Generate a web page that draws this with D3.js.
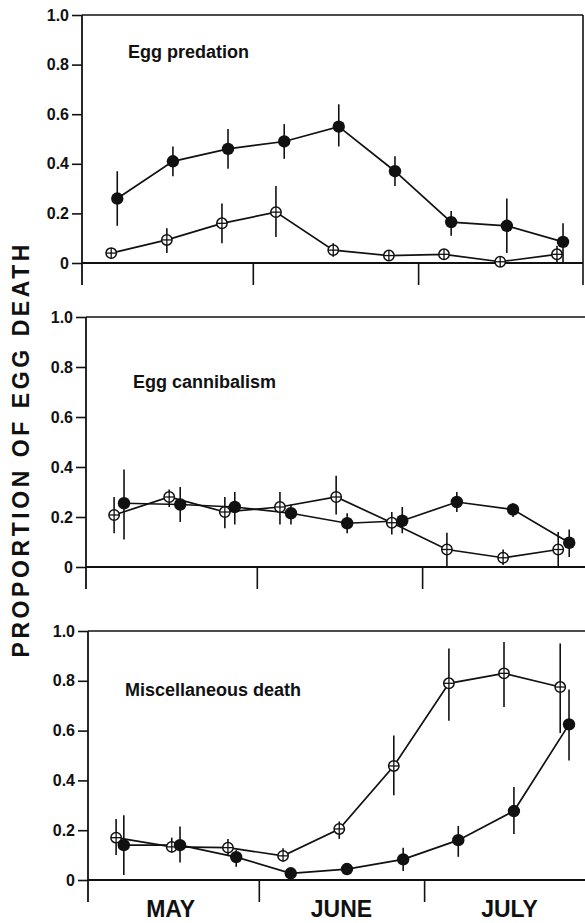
<!DOCTYPE html>
<html>
<head>
<meta charset="utf-8">
<script src="https://cdn.jsdelivr.net/npm/d3@7"></script>
<style>
  html, body { margin: 0; padding: 0; background: #fff; }
  svg { display: block; }
  text { font-family: "Liberation Sans", Arial, Helvetica, sans-serif; font-weight: bold; fill: #111; }
</style>
</head>
<body>
<div id="chart"></div>
<script>
// ---------- DATA ----------
// x values: day of season (0 = 1 May)
const monthBoundaries = [31, 61];
const monthLabels = ["MAY", "JUNE", "JULY"];
const monthMidDays = [15, 46, 76.5];
const yTickValues = [0, 0.2, 0.4, 0.6, 0.8, 1.0];
const yTickLabels = ["0", "0.2", "0.4", "0.6", "0.8", "1.0"];
const panelTitles = ["Egg predation", "Egg cannibalism", "Miscellaneous death"];

// Panel 1: Egg predation
const predFilledDays = [6.4, 16.5, 26.5, 36.7, 46.6, 56.8, 67.0, 77.1, 87.3];
const predFilled     = [0.26, 0.41, 0.46, 0.49, 0.55, 0.37, 0.165, 0.15, 0.085];
const predFilledHi   = [0.37, 0.47, 0.54, 0.56, 0.64, 0.43, 0.21, 0.26, 0.16];
const predFilledLo   = [0.15, 0.35, 0.38, 0.42, 0.47, 0.31, 0.11, 0.04, 0.0];
const predOpenDays   = [5.3, 15.4, 25.4, 35.2, 45.6, 55.7, 65.7, 75.9, 86.2];
const predOpen       = [0.04, 0.093, 0.16, 0.205, 0.052, 0.03, 0.035, 0.005, 0.035];
const predOpenHi     = [0.04, 0.14, 0.24, 0.31, 0.08, 0.045, 0.05, 0.015, 0.07];
const predOpenLo     = [0.04, 0.04, 0.08, 0.105, 0.025, 0.015, 0.02, 0.0, 0.0];

// Panel 2: Egg cannibalism
const cannFilledDays = [6.9, 17.1, 27.0, 37.2, 47.4, 57.4, 67.3, 77.5, 87.7];
const cannFilled     = [0.255, 0.25, 0.24, 0.215, 0.175, 0.185, 0.26, 0.23, 0.097];
const cannFilledHi   = [0.39, 0.32, 0.30, 0.25, 0.215, 0.24, 0.30, 0.255, 0.15];
const cannFilledLo   = [0.11, 0.18, 0.17, 0.17, 0.135, 0.135, 0.22, 0.20, 0.04];
const cannOpenDays   = [5.1, 15.1, 25.2, 35.2, 45.4, 55.5, 65.5, 75.7, 85.7];
const cannOpen       = [0.208, 0.28, 0.22, 0.24, 0.28, 0.177, 0.07, 0.037, 0.07];
const cannOpenHi     = [0.28, 0.31, 0.28, 0.30, 0.365, 0.22, 0.137, 0.07, 0.14];
const cannOpenLo     = [0.135, 0.24, 0.155, 0.17, 0.21, 0.13, 0.0, 0.008, 0.0];

// Panel 3: Miscellaneous death
const miscFilledDays = [6.5, 16.7, 26.9, 36.8, 47.0, 57.2, 67.2, 77.3, 87.3];
const miscFilled     = [0.14, 0.14, 0.092, 0.027, 0.044, 0.083, 0.16, 0.277, 0.625];
const miscFilledHi   = [0.26, 0.215, 0.12, 0.027, 0.044, 0.13, 0.217, 0.373, 0.765];
const miscFilledLo   = [0.02, 0.07, 0.053, 0.027, 0.044, 0.036, 0.093, 0.185, 0.48];
const miscOpenDays   = [5.1, 15.2, 25.4, 35.4, 45.6, 55.5, 65.5, 75.5, 85.7];
const miscOpen       = [0.17, 0.133, 0.13, 0.097, 0.205, 0.458, 0.79, 0.83, 0.775];
const miscOpenHi     = [0.245, 0.17, 0.165, 0.128, 0.235, 0.58, 0.93, 0.956, 0.95];
const miscOpenLo     = [0.10, 0.11, 0.10, 0.073, 0.165, 0.34, 0.64, 0.695, 0.59];

// ---------- LAYOUT ----------
const W = 585, H = 923;
const panels = [
  { title: panelTitles[0], left: 82, top: 15,  bottom: 263, rightEnd: 583, frameRight: true,  titleX: 128, titleY: 58,
    filled: { days: predFilledDays, v: predFilled, hi: predFilledHi, lo: predFilledLo },
    open:   { days: predOpenDays,   v: predOpen,   hi: predOpenHi,   lo: predOpenLo } },
  { title: panelTitles[1], left: 86, top: 317, bottom: 567, rightEnd: 585, frameRight: false, titleX: 133, titleY: 388,
    filled: { days: cannFilledDays, v: cannFilled, hi: cannFilledHi, lo: cannFilledLo },
    open:   { days: cannOpenDays,   v: cannOpen,   hi: cannOpenHi,   lo: cannOpenLo } },
  { title: panelTitles[2], left: 88, top: 631, bottom: 880, rightEnd: 585, frameRight: false, titleX: 125, titleY: 696,
    filled: { days: miscFilledDays, v: miscFilled, hi: miscFilledHi, lo: miscFilledLo },
    open:   { days: miscOpenDays,   v: miscOpen,   hi: miscOpenHi,   lo: miscOpenLo } }
];
const pxPerDay = 5.51;
const dayMax = 91;
const belowAxis = 22;

const svg = d3.select("#chart").append("svg")
  .attr("width", W).attr("height", H).attr("viewBox", `0 0 ${W} ${H}`);

panels.forEach((p, pi) => {
  const x = d3.scaleLinear().domain([0, dayMax]).range([p.left, p.left + dayMax * pxPerDay]);
  const y = d3.scaleLinear().domain([0, 1]).range([p.bottom, p.top]);
  const g = svg.append("g");

  // Left axis with ticks
  const yAxis = d3.axisLeft(y).tickValues(yTickValues)
    .tickFormat((d, i) => yTickLabels[i]).tickSize(10).tickPadding(3);
  const ya = g.append("g").attr("transform", `translate(${p.left},0)`).call(yAxis)
    .attr("font-size", 16).attr("font-family", null);
  ya.select(".domain").remove();
  ya.selectAll(".tick line").attr("stroke", "#111").attr("stroke-width", 1.6);
  ya.selectAll(".tick text").style("font-size", "16px").attr("fill", "#111");

  // Left axis line extended below zero
  g.append("line").attr("x1", p.left).attr("x2", p.left)
    .attr("y1", y(1)).attr("y2", y(0) + belowAxis)
    .attr("stroke", "#111").attr("stroke-width", 1.8);
  // Top frame line
  g.append("line").attr("x1", p.left).attr("x2", p.rightEnd)
    .attr("y1", y(1)).attr("y2", y(1)).attr("stroke", "#111").attr("stroke-width", 1.6);
  // Zero line
  g.append("line").attr("x1", p.left).attr("x2", p.rightEnd)
    .attr("y1", y(0)).attr("y2", y(0)).attr("stroke", "#111").attr("stroke-width", 1.8);
  if (p.frameRight) {
    g.append("line").attr("x1", p.rightEnd).attr("x2", p.rightEnd)
      .attr("y1", y(1)).attr("y2", y(0) + belowAxis)
      .attr("stroke", "#111").attr("stroke-width", 1.6);
  }

  // Month boundary ticks below the zero line
  const xAxis = d3.axisBottom(x).tickValues(monthBoundaries).tickFormat("").tickSize(belowAxis).tickSizeOuter(0);
  const xa = g.append("g").attr("transform", `translate(0,${y(0)})`).call(xAxis);
  xa.select(".domain").remove();
  xa.selectAll(".tick line").attr("stroke", "#111").attr("stroke-width", 1.6);

  // Title
  g.append("text").attr("x", p.titleX).attr("y", p.titleY)
    .style("font-size", "18px").text(p.title);

  // Series
  const drawSeries = (s) => {
    const pts = s.days.map((d, i) => ({ d, v: s.v[i], hi: s.hi[i], lo: s.lo[i] }));
    const line = d3.line().x(q => x(q.d)).y(q => y(q.v));
    g.append("path").datum(pts).attr("d", line)
      .attr("fill", "none").attr("stroke", "#111").attr("stroke-width", 1.7);
    return pts;
  };
  const drawErr = (pts) => {
    g.selectAll(null).data(pts).enter().append("line")
      .attr("x1", q => x(q.d)).attr("x2", q => x(q.d))
      .attr("y1", q => y(q.hi)).attr("y2", q => y(q.lo))
      .attr("stroke", "#111").attr("stroke-width", 1.6);
  };
  const openPts = drawSeries(p.open);
  const filledPts = drawSeries(p.filled);
  drawErr(openPts);
  drawErr(filledPts);

  // Open markers: circle with cross
  const om = g.selectAll(null).data(openPts).enter().append("g")
    .attr("transform", q => `translate(${x(q.d)},${y(q.v)})`);
  om.append("circle").attr("r", 5.2).attr("fill", "#fff").attr("stroke", "#111").attr("stroke-width", 1.5);
  om.append("line").attr("x1", -5).attr("x2", 5).attr("y1", 0).attr("y2", 0).attr("stroke", "#111").attr("stroke-width", 1.3);
  om.append("line").attr("x1", 0).attr("x2", 0).attr("y1", -5).attr("y2", 5).attr("stroke", "#111").attr("stroke-width", 1.3);

  // Filled markers
  g.selectAll(null).data(filledPts).enter().append("circle")
    .attr("cx", q => x(q.d)).attr("cy", q => y(q.v)).attr("r", 6.2).attr("fill", "#111");

  // Month labels on bottom panel
  if (pi === panels.length - 1) {
    g.selectAll(null).data(monthLabels).enter().append("text")
      .attr("x", (m, i) => x(monthMidDays[i])).attr("y", 917)
      .attr("text-anchor", "middle").style("font-size", "23px").text(m => m);
  }
});

// Y axis title
svg.append("text")
  .attr("transform", "translate(29,451) rotate(-90)")
  .attr("text-anchor", "middle")
  .attr("textLength", 413).attr("lengthAdjust", "spacing")
  .style("font-size", "23px")
  .text("PROPORTION OF EGG DEATH");
</script>
</body>
</html>
